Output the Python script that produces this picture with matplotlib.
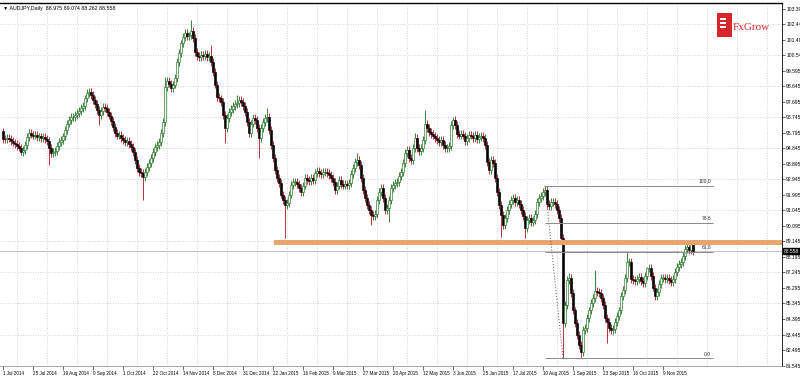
import matplotlib.pyplot as plt
from matplotlib.patches import Rectangle
import matplotlib.transforms as mtransforms

# daily closes, AUDJPY
closes = [
    95.42, 95.40, 95.48, 95.45, 95.30, 95.20, 95.12, 95.00, 94.88, 94.62,
    94.75, 95.06, 95.55, 95.80, 95.68, 95.62, 95.67, 95.55, 95.60, 95.48,
    95.55, 95.42, 95.30, 94.88, 94.57, 94.63, 94.69, 95.00, 95.24, 95.36,
    95.60, 95.97, 96.35, 96.59, 96.77, 96.77, 96.90, 97.02, 97.14, 97.32,
    97.45, 97.93, 98.24, 98.30, 98.12, 97.81, 97.57, 97.20, 96.90, 97.14,
    97.38, 97.32, 97.08, 96.84, 96.53, 96.16, 95.79, 95.62, 95.67, 95.48,
    95.36, 95.24, 95.30, 95.12, 94.93, 94.63, 94.14, 93.65, 93.40, 93.34,
    93.10, 93.40, 93.71, 93.95, 94.26, 94.63, 94.93, 95.06, 95.24, 95.79,
    96.47, 98.60, 98.98, 98.80, 98.55, 98.74, 99.16, 100.14, 100.69, 101.30,
    101.67, 101.92, 101.73, 101.79, 102.04, 101.61, 100.75, 100.51, 100.45, 100.57,
    100.51, 100.63, 100.45, 100.51, 100.14, 99.53, 98.74, 98.00, 97.93, 97.69,
    96.90, 96.10, 96.71, 97.08, 97.26, 97.45, 97.57, 97.63, 97.81, 97.69,
    97.45, 97.08, 96.47, 95.79, 96.35, 96.71, 96.59, 96.10, 95.48, 96.10,
    96.47, 96.71, 96.77, 95.97, 95.06, 94.26, 93.52, 93.03, 92.73, 92.00,
    91.69, 91.38, 91.50, 92.00, 92.61, 92.79, 92.79, 92.67, 92.42, 92.18,
    92.55, 93.03, 92.91, 92.85, 93.03, 92.91, 93.34, 93.46, 93.34, 93.28,
    93.40, 93.40, 93.34, 93.22, 93.03, 92.79, 92.30, 92.55, 92.91, 92.67,
    92.55, 92.67, 92.61, 92.73, 93.28, 93.65, 94.01, 94.14, 93.83, 93.03,
    92.30, 91.81, 91.38, 91.07, 90.77, 90.71, 90.83, 91.69, 92.18, 92.42,
    91.81, 91.07, 91.20, 91.69, 92.42, 92.61, 92.73, 92.79, 93.16, 93.40,
    93.95, 94.57, 94.75, 94.26, 94.14, 94.87, 95.48, 94.87, 94.69, 94.87,
    95.36, 96.35, 96.10, 95.85, 95.73, 95.62, 95.48, 95.36, 95.24, 95.36,
    95.06, 94.87, 94.87, 94.99, 96.28, 96.59, 96.28, 95.73, 95.62, 95.73,
    95.62, 95.30, 95.48, 95.67, 95.62, 95.48, 95.67, 95.42, 95.55, 95.62,
    95.48, 95.06, 94.01, 93.52, 94.14, 93.95, 93.03, 92.18, 91.38, 90.77,
    90.15, 90.58, 91.07, 91.44, 91.69, 91.81, 91.56, 91.69, 91.44, 91.07,
    90.71, 89.97, 90.46, 90.58, 90.34, 90.46, 90.83, 91.56, 91.81, 91.93,
    92.18, 92.30, 91.44, 91.32, 91.56, 91.56, 91.44, 91.07, 90.58, 89.36,
    84.15, 85.25, 86.78, 86.91, 85.99, 84.94, 84.15, 83.41, 82.80, 82.37,
    83.72, 83.84, 84.46, 84.94, 85.37, 85.68, 86.11, 86.05, 85.99, 85.68,
    85.25, 84.46, 84.21, 83.84, 83.72, 83.78, 84.21, 84.58, 84.94, 85.80,
    86.17, 86.91, 87.89, 87.89, 86.85, 86.78, 86.72, 86.85, 86.97, 86.72,
    86.60, 87.03, 87.52, 87.52, 87.03, 86.30, 85.80, 86.05, 86.54, 86.91,
    86.91, 86.85, 86.91, 86.78, 86.66, 86.85, 87.27, 87.58, 87.76, 87.89,
    88.25, 88.68, 88.81, 88.62, 88.97, 88.56,
]
first_open = 95.90

# long wicks that stand out
spike_high = {43: 98.55, 81: 99.22, 94: 102.72, 104: 101.20, 117: 98.12,
              132: 97.32, 177: 94.57, 206: 95.79, 211: 97.20, 225: 96.77,
              271: 92.56, 283: 87.21, 296: 87.39, 312: 88.50, 322: 87.58,
              344: 89.05}
spike_low = {9: 94.44, 23: 93.83, 48: 96.28, 70: 91.69, 111: 95.18,
             128: 94.26, 141: 89.36, 184: 90.15, 193: 90.34, 249: 89.42,
             261: 89.36, 280: 82.00, 289: 82.00, 302: 82.92}

date_labels = ['1 Jul 2014', '25 Jul 2014', '19 Aug 2014', '9 Sep 2014',
               '1 Oct 2014', '22 Oct 2014', '14 Nov 2014', '8 Dec 2014',
               '31 Dec 2014', '22 Jan 2015', '16 Feb 2015', '9 Mar 2015',
               '27 Mar 2015', '20 Apr 2015', '12 May 2015', '3 Jun 2015',
               '25 Jun 2015', '17 Jul 2015', '10 Aug 2015', '1 Sep 2015',
               '23 Sep 2015', '16 Oct 2015', '9 Nov 2015']
bars_per_label = 15

price_labels = ['81.545', '82.495', '83.445', '84.395', '85.345', '86.295',
                '87.245', '88.195', '89.145', '90.095', '91.045', '91.995',
                '92.945', '93.895', '94.845', '95.795', '96.745', '97.695',
                '98.645', '99.595', '100.545', '101.495', '102.445', '103.395']

support = 89.08
fib_bar_high, fib_bar_low = 271, 280
fib_high, fib_low = 92.56, 82.00
fib_levels = [0.0, 61.8, 78.6, 100.0]
last_price = 88.558
title = 'AUDJPY,Daily  88.975 89.074 88.262 88.558'

plt.rcParams['font.family'] = ['Liberation Sans', 'DejaVu Sans']

fig = plt.figure(figsize=(8, 3.76), dpi=100)
ax = fig.add_axes([0, 10 / 376, 782 / 800, 363 / 376])
ax.set_xlim(-1.5, 389.5)
ax.set_ylim(81.515, 103.757)

# grid
for k, lab in enumerate(price_labels):
    if k % 2 == 0:
        ax.axhline(float(lab), color='#c4c4c4', lw=0.6, ls=(0, (1, 2)), zorder=0)
for j in range(26):
    ax.axvline(7 + bars_per_label * j, color='#c4c4c4', lw=0.6, ls=(0, (1, 2)), zorder=0)

# candles
opens = [first_open] + closes[:-1]
for i, (o, c) in enumerate(zip(opens, closes)):
    hi = spike_high.get(i, max(o, c) + 0.22)
    lo = spike_low.get(i, min(o, c) - 0.22)
    up = c >= o
    wick = '#1e6e1e' if up else '#b0101e'
    ax.vlines(i, lo, hi, color=wick, lw=0.6, zorder=2)
    ax.add_patch(Rectangle((i - 0.3, min(o, c)), 0.6, max(abs(c - o), 0.03),
                           facecolor='white' if up else 'black',
                           edgecolor=wick if up else 'black', lw=0.45, zorder=3))

# current price line
ax.axhline(last_price, color='#b8b8b8', lw=0.6, zorder=1)

# support band
ax.add_patch(Rectangle((135.5, support - 0.17), 389.5 - 135.5, 0.34,
                       facecolor='#e8a46c', edgecolor='none', zorder=4))

# fibonacci
ax.plot([fib_bar_high, fib_bar_low], [fib_high, fib_low], ls=(0, (1, 2)),
        color='#555555', lw=0.7, zorder=4)
for lvl in fib_levels:
    y = fib_low + (fib_high - fib_low) * lvl / 100
    ax.hlines(y, fib_bar_high, 355, color='#8a8a8a', lw=0.7, zorder=4)
    ax.text(354, y + 0.08, f'{lvl:.1f}', fontsize=3.6, ha='right', va='bottom',
            color='#333333', zorder=5)

# axes
ax.yaxis.tick_right()
ax.set_yticks([float(p) for p in price_labels])
ax.set_yticklabels(price_labels, fontsize=3.6)
ax.tick_params(axis='y', length=2, pad=1, width=0.5, color='#333333')
ax.set_xticks([bars_per_label * j for j in range(len(date_labels))])
ax.set_xticklabels(date_labels, fontsize=3.3, ha='left')
ax.tick_params(axis='x', length=3, pad=0.5, width=0.5, color='#333333')
ax.spines['left'].set_visible(False)
ax.spines['top'].set_linewidth(1.0)
ax.spines['right'].set_linewidth(0.6)
ax.spines['bottom'].set_color('#999999')
ax.spines['bottom'].set_linewidth(0.6)

trans = mtransforms.blended_transform_factory(ax.transAxes, ax.transData)
ax.text(1.002, last_price, f'{last_price:.3f}', transform=trans, fontsize=3.6,
        color='white', va='center', ha='left', clip_on=False,
        bbox=dict(facecolor='black', edgecolor='black', pad=0.6))

ax.text(0.004, 0.993, '\u25bc ' + title, transform=ax.transAxes, fontsize=3.8,
        va='top', ha='left')

# logo
fig.patches.append(Rectangle((717 / 800, 1 - 37 / 376), 15 / 800, 24 / 376,
                             transform=fig.transFigure, facecolor='#d9262c',
                             edgecolor='none'))
for yy in [20, 24, 28]:
    fig.patches.append(Rectangle((720 / 800, 1 - yy / 376), 6 / 800, 1.5 / 376,
                                 transform=fig.transFigure, facecolor='white',
                                 edgecolor='none'))
fig.text(733 / 800, 1 - 28 / 376, 'FxGrow', fontsize=8, color='#d9262c',
         family='Liberation Serif', va='center', ha='left')

fig.savefig('out.png', dpi=100)
